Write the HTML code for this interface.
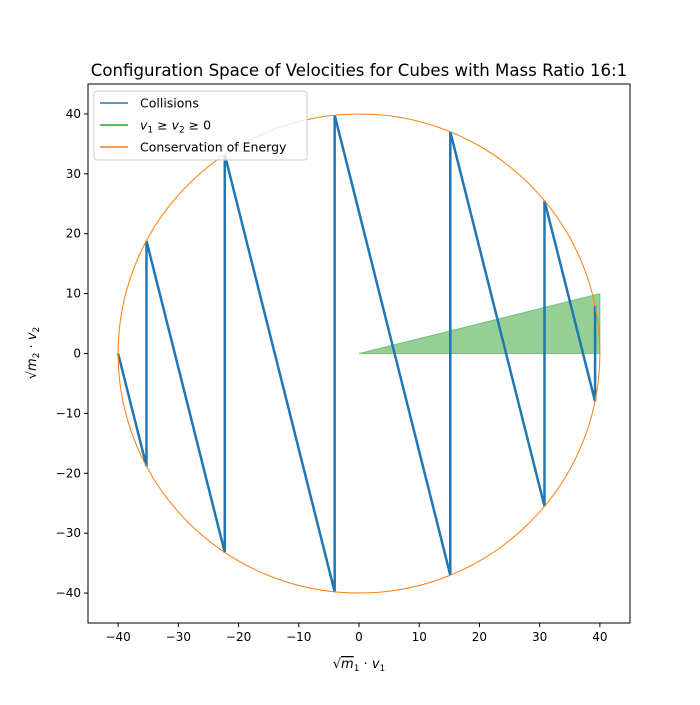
<!DOCTYPE html>
<html><head><meta charset="utf-8"><style>
body{margin:0;background:#fff;}
svg{font-family:"DejaVu Sans","Liberation Sans",sans-serif;}
</style></head><body>
<svg id="chart" width="700" height="700" xmlns="http://www.w3.org/2000/svg">
<rect width="700" height="700" fill="#fff"/>
<text x="359" y="76" font-size="16.6" text-anchor="middle">Configuration Space of Velocities for Cubes with Mass Ratio 16:1</text>
<g id="plot"></g>
<text x="359" y="668" font-size="13" text-anchor="middle">√<tspan text-decoration="overline" font-style="italic">m</tspan><tspan font-size="9" dy="3">1</tspan><tspan dy="-3"> · </tspan><tspan font-style="italic">v</tspan><tspan font-size="9" dy="3">1</tspan></text>
<text transform="translate(36,353) rotate(-90)" font-size="13" text-anchor="middle">√<tspan font-style="italic">m</tspan><tspan font-size="9" dy="3">2</tspan><tspan dy="-3"> · </tspan><tspan font-style="italic">v</tspan><tspan font-size="9" dy="3">2</tspan></text>
</svg>
<script>
const xTicks=[-40,-30,-20,-10,0,10,20,30,40];
const yTicks=[-40,-30,-20,-10,0,10,20,30,40];
const pathX=[-40,-35.29,-35.29,-22.29,-22.29,-4.04,-4.04,15.16,15.16,30.8,30.8,39.2,39.2];
const pathY=[0,-18.82,18.82,-33.21,33.21,-39.8,39.8,-37.01,37.01,-25.5,25.5,-7.98,7.98];
const regionX=[0,40,40];
const regionY=[0,10,0];
const radius=[40];
const NS="http://www.w3.org/2000/svg";
const L=88,R=630,T=84,B=623;
const sx=v=>L+(v+45)/90*(R-L);
const sy=v=>B-(v+45)/90*(B-T);
const g=document.getElementById('plot');
function mk(t,a){const e=document.createElementNS(NS,t);for(const k in a)e.setAttribute(k,a[k]);g.appendChild(e);return e;}
let e=mk('polygon',{points:regionX.map((x,i)=>sx(x)+','+sy(regionY[i])).join(' '),fill:'#2ca02c','fill-opacity':0.5,stroke:'#2ca02c','stroke-opacity':0.5});


e=mk('polyline',{points:pathX.map((x,i)=>sx(x)+','+sy(pathY[i])).join(' '),fill:'none',stroke:'#1f77b4','stroke-width':2.5});


e=mk('ellipse',{cx:sx(0),cy:sy(0),rx:sx(radius[0])-sx(0),ry:sy(0)-sy(radius[0]),fill:'none',stroke:'#ff7f0e','stroke-width':1});


e=mk('rect',{x:L,y:T,width:R-L,height:B-T,fill:'none',stroke:'#000','stroke-width':1});


xTicks.forEach(v=>{const x=sx(v);
 let t=mk('line',{x1:x,x2:x,y1:B,y2:B+4,stroke:'#000'});
 
 
 t=mk('text',{x:x,y:B+18,'font-size':12,'text-anchor':'middle'});t.textContent=(v<0?'−'+(-v):v);
 
 });
yTicks.forEach(v=>{const y=sy(v);
 let t=mk('line',{x1:L-4,x2:L,y1:y,y2:y,stroke:'#000'});
 
 
 t=mk('text',{x:L-7,y:y+4,'font-size':12,'text-anchor':'end'});t.textContent=(v<0?'−'+(-v):v);
 
 });
e=mk('rect',{x:94,y:91,width:213,height:69,rx:3,fill:'#fff','fill-opacity':0.8,stroke:'#ccc'});


const lg=[['Collisions','#1f77b4'],['','#2ca02c'],['Conservation of Energy','#ff7f0e']];
lg.forEach((d,i)=>{const y=103+i*22;
 let l=mk('line',{x1:100,x2:128,y1:y,y2:y,stroke:d[1],'stroke-width':1.5});
 
 
 let t=mk('text',{x:140,y:y+4.5,'font-size':12.5});
 if(i===1){t.innerHTML='<tspan font-style="italic">v</tspan><tspan font-size="9" dy="3">1</tspan><tspan dy="-3"> ≥ </tspan><tspan font-style="italic">v</tspan><tspan font-size="9" dy="3">2</tspan><tspan dy="-3"> ≥ 0</tspan>';}
 else t.textContent=d[0];
 
 });
</script>
</body></html>
